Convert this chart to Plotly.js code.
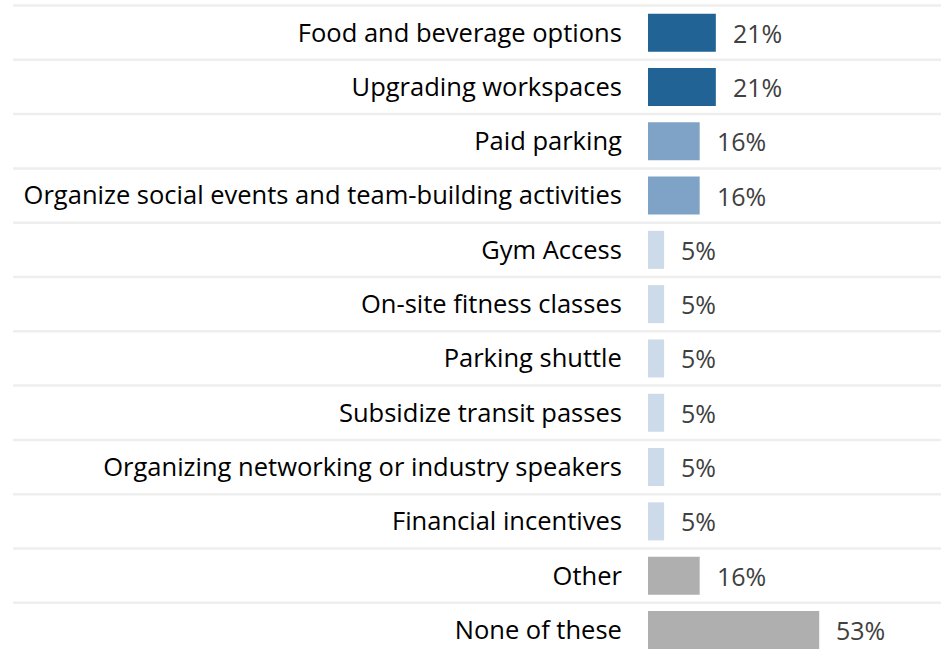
<!DOCTYPE html>
<html><head><meta charset="utf-8">
<script src="https://cdn.plot.ly/plotly-3.0.1.min.js"></script>
<style>html,body{margin:0;padding:0;background:#fff;}#chart{width:941px;height:655px;}</style>
</head><body><div id="chart"></div>
<script>
const categories = [
  "Food and beverage options",
  "Upgrading workspaces",
  "Paid parking",
  "Organize social events and team-building activities",
  "Gym Access",
  "On-site fitness classes",
  "Parking shuttle",
  "Subsidize transit passes",
  "Organizing networking or industry speakers",
  "Financial incentives",
  "Other",
  "None of these"
];
const values = [21, 21, 16, 16, 5, 5, 5, 5, 5, 5, 16, 53];
const barColors = ["#216395","#216395","#7fa3c6","#7fa3c6","#cddaea","#cddaea","#cddaea","#cddaea","#cddaea","#cddaea","#afafaf","#afafaf"];

const FONT = "'Open Sans', sans-serif";

const trace = {
  type: "bar",
  orientation: "h",
  y: categories,
  x: values,
  width: 0.7,
  marker: {color: barColors},
  hoverinfo: "skip"
};

const annotations = categories.map((c, i) => ({
  x: values[i], y: c, xref: "x", yref: "y",
  text: values[i] + "%", showarrow: false,
  xanchor: "left", xshift: 15,
  font: {family: FONT, size: 25, color: "#404040"}
}));

const shapes = [];
for (let i = 0; i <= categories.length; i++) {
  shapes.push({
    type: "line", xref: "paper", yref: "y",
    x0: -2.167, x1: 1, y0: i - 0.5, y1: i - 0.5,
    line: {color: "#eeeeee", width: 2.5}
  });
}

const layout = {
  width: 941, height: 655,
  margin: {l: 648, r: 0, t: 0, b: 0},
  paper_bgcolor: "#fff", plot_bgcolor: "#fff",
  showlegend: false,
  xaxis: {range: [0, 90.7], visible: false, fixedrange: true},
  yaxis: {
    type: "category",
    range: [11.461, -0.601],
    showgrid: false, zeroline: false, showline: false,
    ticks: "outside", ticklen: 20, tickcolor: "rgba(0,0,0,0)",
    tickfont: {family: FONT, size: 25.5, color: "#000"},
    automargin: false
  },
  shapes: shapes,
  annotations: annotations
};

Plotly.newPlot("chart", [trace], layout, {displayModeBar: false, staticPlot: true});
</script>
</body></html>
